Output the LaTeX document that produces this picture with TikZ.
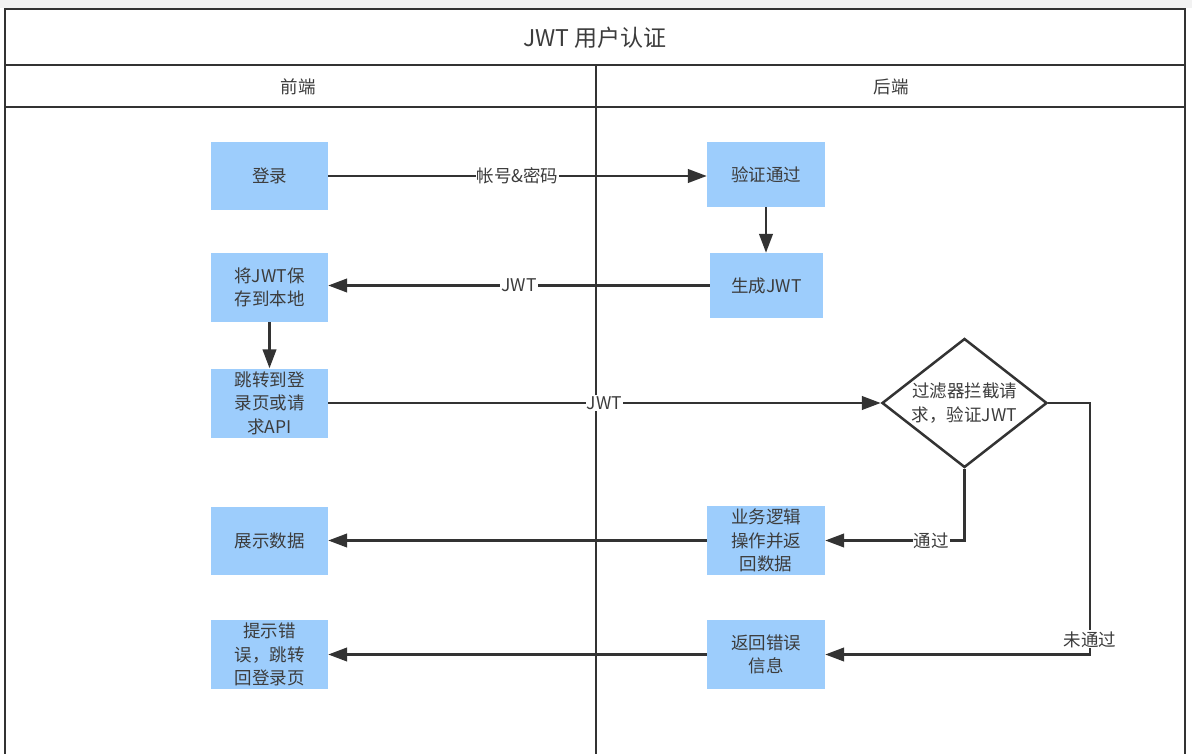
\documentclass[tikz,border=0pt]{standalone}
\usepackage{fontspec}
\setmainfont{Noto Sans CJK SC}
\usetikzlibrary{arrows.meta,shapes.geometric}
\definecolor{boxblue}{HTML}{9DCDFC}
\definecolor{ink}{HTML}{333333}
\definecolor{txt}{HTML}{3C3C3C}
\definecolor{topgray}{HTML}{F2F2F2}
\begin{document}
\begin{tikzpicture}[x=1pt,y=-1pt,
  proc/.style={fill=boxblue, draw=none, minimum width=117pt, minimum height=68pt,
    inner sep=0pt, align=center, text=txt, font=\fontsize{17.5}{23.5}\selectfont},
  frame/.style={draw=ink, line width=2.5pt},
  flow/.style={draw=ink, line width=2.6pt, -{Triangle[length=19pt,width=13.5pt]}},
  lbl/.style={fill=white, inner sep=1pt, text=txt, font=\fontsize{17.5}{20}\selectfont},
  hdr/.style={text=txt, font=\fontsize{17.5}{20}\selectfont}
]
\useasboundingbox (0,0) rectangle (1192,754);
\fill[white] (0,0) rectangle (1192,754);
\fill[topgray] (0,0) rectangle (1192,8);
% frame
\draw[frame] (5,754) -- (5,9) -- (1185,9) -- (1185,754);
\draw[frame] (5,65) -- (1185,65);
\draw[frame] (5,107) -- (1185,107);
\draw[frame] (596,65) -- (596,754);
% headers
\node[text=txt, font=\fontsize{23}{26}\selectfont] (title) at (595,38) {JWT 用户认证};
\node[hdr] (front) at (298,87) {前端};
\node[hdr] (back) at (891,87) {后端};
% front boxes
\node[proc] (login) at (269.5,176) {登录};
\node[proc, minimum height=69pt] (save) at (269.5,287.5) {将JWT保\\存到本地};
\node[proc, minimum height=69pt] (jump) at (269.5,403) {跳转到登\\录页或请\\求API};
\node[proc] (show) at (269.5,541) {展示数据};
\node[proc, minimum height=69pt] (tip) at (269.5,654.5) {提示错\\误，跳转\\回登录页};
% back boxes
\node[proc, minimum width=118pt, minimum height=65pt] (verify) at (766,174.5) {验证通过};
\node[proc, minimum width=113pt, minimum height=65pt] (gen) at (766.5,285.5) {生成JWT};
\node[proc, minimum width=118pt, minimum height=69pt] (biz) at (766,540.5) {业务逻辑\\操作并返\\回数据};
\node[proc, minimum width=118pt, minimum height=69pt] (err) at (766,654.5) {返回错误\\信息};
% decision
\node[diamond, draw=ink, line width=2.5pt, fill=white, minimum width=165pt, minimum height=129pt,
  aspect=1.28, inner sep=0pt, align=center, text=txt, font=\fontsize{17.5}{23.5}\selectfont]
  (dia) at (964.5,403) {过滤器拦截请\\求，验证JWT};
% connectors
\draw[flow] (login.east) -- node[lbl, pos=0.5] {帐号\&密码} (login.east -| verify.west);
\draw[flow] (verify.south) -- (verify.south |- gen.north);
\draw[flow] (gen.west) -- node[lbl, pos=0.5] {JWT} (gen.west -| save.east);
\draw[flow] (save.south) -- (jump.north);
\draw[flow] (jump.east) -- node[lbl, pos=0.5] {JWT} (dia.west);
\draw[flow] (dia.south) |- node[lbl, pos=0.62] {通过} (biz.east);
\draw[flow] (biz.west) -- (biz.west -| show.east);
\coordinate (c1) at (1090,403);
\coordinate (c2) at (1090,654.5);
\draw[flow] (dia.east) -- (c1) -- node[lbl, pos=0.94] {未通过} (c2) -- (err.east);
\draw[flow] (err.west) -- (err.west -| tip.east);
\end{tikzpicture}
\end{document}
